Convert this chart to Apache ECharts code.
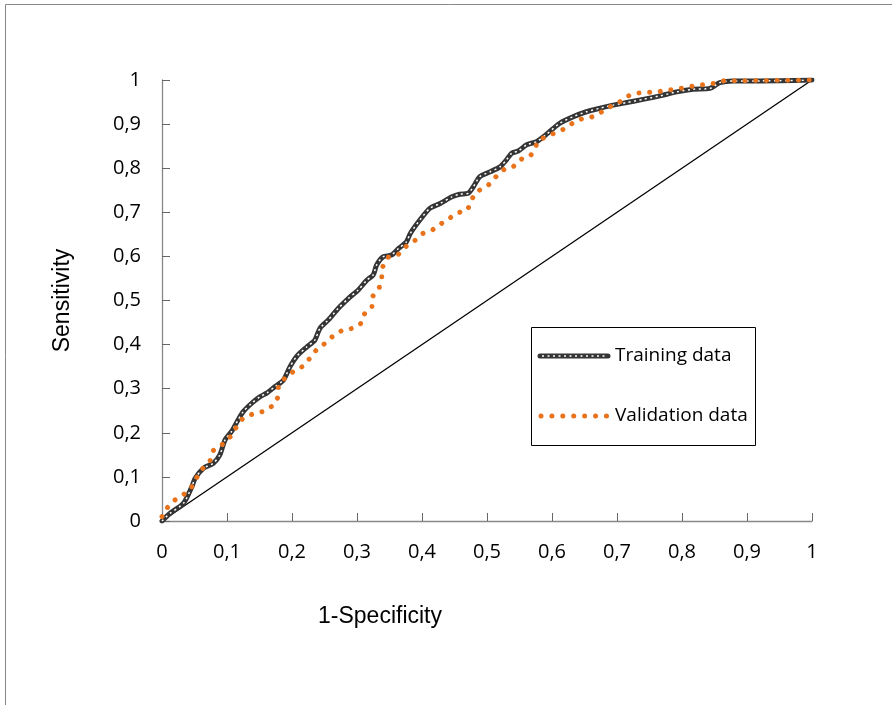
<!DOCTYPE html>
<html>
<head>
<meta charset="utf-8">
<script src="https://cdn.jsdelivr.net/npm/echarts@6/dist/echarts.min.js"></script>
<style>
  html, body { margin: 0; padding: 0; background: #fff; }
  #roc { width: 892px; height: 705px; }
</style>
</head>
<body>
<div id="roc"></div>
<script>
// ROC curves
var trainingFpr = [0, 0.012, 0.033, 0.046, 0.051, 0.064, 0.079, 0.089, 0.097, 0.107, 0.117, 0.125, 0.138, 0.151, 0.161, 0.174, 0.187, 0.197, 0.207, 0.223, 0.235, 0.243, 0.256, 0.271, 0.287, 0.302, 0.315, 0.325, 0.33, 0.34, 0.353, 0.364, 0.376, 0.382, 0.397, 0.412, 0.428, 0.446, 0.458, 0.471, 0.479, 0.489, 0.505, 0.52, 0.53, 0.538, 0.548, 0.561, 0.576, 0.59, 0.612, 0.633, 0.653, 0.674, 0.694, 0.715, 0.74, 0.766, 0.792, 0.817, 0.843, 0.858, 0.879, 0.92, 1];
var trainingTpr = [0, 0.017, 0.04, 0.078, 0.097, 0.12, 0.131, 0.15, 0.184, 0.203, 0.229, 0.248, 0.267, 0.282, 0.29, 0.305, 0.32, 0.35, 0.373, 0.395, 0.41, 0.437, 0.456, 0.482, 0.505, 0.524, 0.546, 0.558, 0.58, 0.599, 0.603, 0.618, 0.633, 0.652, 0.683, 0.709, 0.72, 0.735, 0.741, 0.743, 0.758, 0.781, 0.792, 0.803, 0.819, 0.834, 0.839, 0.853, 0.86, 0.875, 0.902, 0.917, 0.928, 0.936, 0.943, 0.949, 0.956, 0.964, 0.973, 0.979, 0.981, 0.994, 0.998, 0.998, 1];
var validationFpr = [0, 0.008, 0.02, 0.034, 0.046, 0.054, 0.064, 0.074, 0.079, 0.093, 0.105, 0.114, 0.124, 0.14, 0.155, 0.17, 0.179, 0.179, 0.189, 0.203, 0.217, 0.228, 0.238, 0.252, 0.264, 0.278, 0.294, 0.306, 0.311, 0.323, 0.324, 0.334, 0.338, 0.339, 0.348, 0.364, 0.375, 0.389, 0.401, 0.416, 0.428, 0.44, 0.453, 0.47, 0.475, 0.482, 0.496, 0.507, 0.516, 0.527, 0.54, 0.552, 0.567, 0.574, 0.58, 0.6, 0.622, 0.633, 0.646, 0.661, 0.673, 0.684, 0.693, 0.705, 0.714, 0.728, 0.743, 0.76, 0.775, 0.791, 0.806, 0.82, 0.835, 0.852, 0.864, 1];
var validationTpr = [0.01, 0.03, 0.048, 0.061, 0.078, 0.1, 0.122, 0.137, 0.16, 0.174, 0.191, 0.212, 0.232, 0.243, 0.248, 0.261, 0.282, 0.305, 0.324, 0.34, 0.351, 0.37, 0.389, 0.404, 0.421, 0.433, 0.437, 0.448, 0.469, 0.485, 0.509, 0.528, 0.55, 0.575, 0.598, 0.605, 0.622, 0.636, 0.652, 0.66, 0.673, 0.684, 0.698, 0.705, 0.724, 0.745, 0.756, 0.767, 0.785, 0.798, 0.803, 0.82, 0.828, 0.847, 0.864, 0.877, 0.891, 0.904, 0.912, 0.916, 0.925, 0.933, 0.943, 0.951, 0.962, 0.97, 0.972, 0.972, 0.977, 0.979, 0.983, 0.987, 0.99, 0.993, 0.998, 1];
var chanceLine = [[0, 0], [1, 1]];
var legendNames = ['Training data', 'Validation data'];

function pairs(xs, ys) {
    return xs.map(function (x, i) { return [x, ys[i]]; });
}
function commaLabel(v) {
    return String(Math.round(v * 10) / 10).replace('.', ',');
}

var tickFont = '"Open Sans", sans-serif';
var orange = '#E8731B';

var chart = echarts.init(document.getElementById('roc'));
var option = {
    backgroundColor: '#fff',
    animation: false,
    grid: { left: 162, right: 80, top: 80, bottom: 184 },
    xAxis: {
        type: 'value', min: 0, max: 1, interval: 0.1,
        name: '1-Specificity', nameLocation: 'middle', nameGap: 84,
        // title sits left of the axis centre in the original
        nameTextStyle: { fontFamily: 'Liberation Sans', fontSize: 23, color: '#000', padding: [0, 214, 0, 0] },
        axisLine: { lineStyle: { color: '#888', width: 1.3 } },
        axisTick: { inside: true, length: 8, lineStyle: { color: '#666' } },
        axisLabel: { margin: 21, fontFamily: tickFont, fontSize: 20, color: '#000', formatter: commaLabel },
        splitLine: { show: false }
    },
    yAxis: {
        type: 'value', min: 0, max: 1, interval: 0.1,
        name: 'Sensitivity', nameLocation: 'middle', nameGap: 88, nameRotate: 90,
        nameTextStyle: { fontFamily: 'Liberation Sans', fontSize: 23, color: '#000' },
        axisLine: { show: true, lineStyle: { color: '#888', width: 1.3 } },
        axisTick: { show: true, inside: true, length: 8, lineStyle: { color: '#666' } },
        axisLabel: { margin: 21, fontFamily: tickFont, fontSize: 20, color: '#000', formatter: commaLabel },
        splitLine: { show: false }
    },
    series: [
        {
            type: 'line', data: chanceLine, symbol: 'none', silent: true,
            lineStyle: { color: '#000', width: 1.3 }
        },
        {
            name: legendNames[0], type: 'line', data: pairs(trainingFpr, trainingTpr),
            symbol: 'none', smooth: 0.25,
            lineStyle: { color: '#353535', width: 5, cap: 'round', join: 'round' }
        },
        {
            type: 'line', data: pairs(trainingFpr, trainingTpr),
            symbol: 'none', smooth: 0.25, silent: true,
            lineStyle: { color: '#fff', width: 1.5, type: [2, 3.5] }
        },
        {
            name: legendNames[1], type: 'line', data: pairs(validationFpr, validationTpr),
            symbol: 'none',
            lineStyle: { color: orange, width: 5, cap: 'round', type: [0.01, 10.7] }
        }
    ],
    graphic: [
        // outer frame (only top and left edges are inside the picture)
        { type: 'rect', left: 3, top: 2, shape: { width: 1000, height: 1000 },
          style: { fill: 'none', stroke: '#888', lineWidth: 1 }, silent: true },
        // legend box
        { type: 'rect', shape: { x: 531.5, y: 327.5, width: 224, height: 118 },
          style: { fill: '#fff', stroke: '#000', lineWidth: 1 }, z: 10 },
        { type: 'line', shape: { x1: 540, y1: 356, x2: 608, y2: 356 },
          style: { stroke: '#353535', lineWidth: 5, lineCap: 'round' }, z: 11 },
        { type: 'line', shape: { x1: 542, y1: 356, x2: 607, y2: 356 },
          style: { stroke: '#fff', lineWidth: 1.5, lineDash: [2, 3.5] }, z: 12 },
        { type: 'text', x: 615, y: 356, z: 11,
          style: { text: legendNames[0], fontFamily: tickFont, fontSize: 19, fill: '#000', verticalAlign: 'middle' } },
        { type: 'line', shape: { x1: 541, y1: 416, x2: 608, y2: 416 },
          style: { stroke: orange, lineWidth: 5, lineCap: 'round', lineDash: [0.01, 10.9] }, z: 11 },
        { type: 'text', x: 615, y: 416, z: 11,
          style: { text: legendNames[1], fontFamily: tickFont, fontSize: 19, fill: '#000', verticalAlign: 'middle' } }
    ]
};
chart.setOption(option);
</script>
</body>
</html>
